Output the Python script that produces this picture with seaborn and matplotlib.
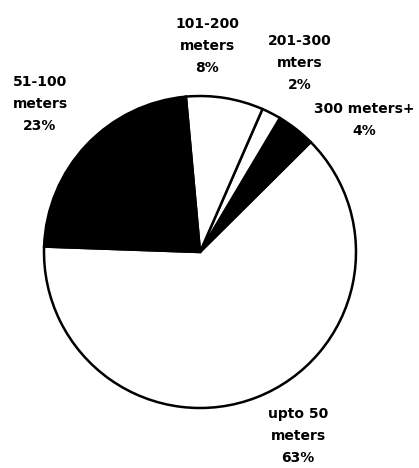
import matplotlib
matplotlib.use("Agg")
import matplotlib.pyplot as plt
import seaborn as sns

# distance bands and their share (%)
categories = ["upto 50\nmeters", "300 meters+", "201-300\nmters", "101-200\nmeters", "51-100\nmeters"]
shares = [63, 4, 2, 8, 23]
fills = ["white", "black", "white", "white", "black"]

sns.set_theme(style="white")
plt.rcParams['font.family'] = ['DejaVu Sans']

W, H = 419, 468
fig = plt.figure(figsize=(W / 100, H / 100), dpi=100)
ax = fig.add_axes([0, 0, 1, 1])

cx, cy, r = 200, H - 252, 156
ax.pie(shares, colors=fills, startangle=178, counterclock=True,
       center=(cx, cy), radius=r, frame=True,
       wedgeprops=dict(edgecolor="black", linewidth=1.8))
ax.set_xlim(0, W)
ax.set_ylim(0, H)
ax.set_aspect("equal")
ax.axis("off")

# label anchor points in image pixels (x, y from top)
label_pos = [(298, 436), (364, 120), (300, 63), (207, 46), (40, 104)]
for name, pct, (lx, ly) in zip(categories, shares, label_pos):
    ax.text(lx, H - ly, f"{name}\n{pct}%", ha="center", va="center",
            fontsize=10, fontweight="bold", linespacing=1.75, color="black")

fig.savefig("out.png", dpi=100, facecolor="white")
